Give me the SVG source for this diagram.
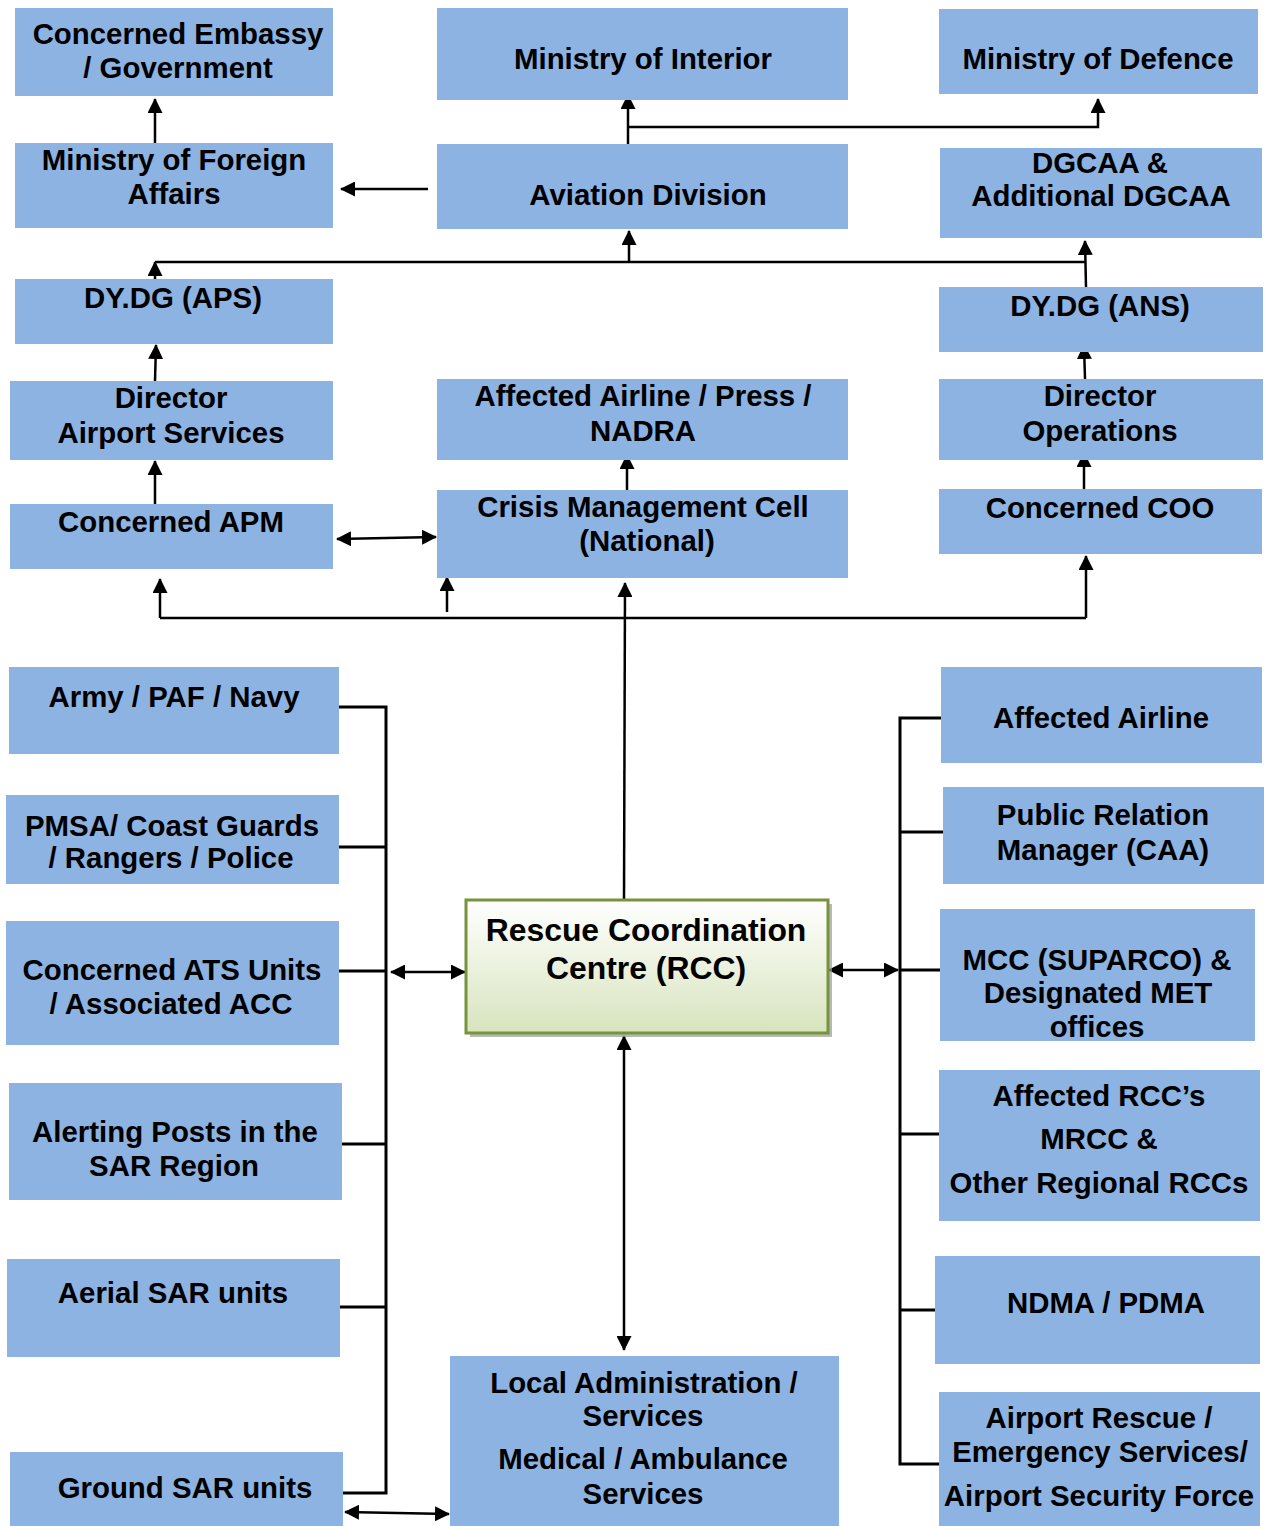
<svg xmlns="http://www.w3.org/2000/svg" width="1265" height="1526" viewBox="0 0 1265 1526">
<style>
.box{fill:#8DB3E2;}
.t{font-family:"Liberation Sans",Arial,sans-serif;font-weight:bold;font-size:29.4px;fill:#000;text-anchor:middle;}
.tr{font-family:"Liberation Sans",Arial,sans-serif;font-weight:bold;font-size:31.9px;fill:#000;text-anchor:middle;}
.c{fill:none;stroke:#000;stroke-width:2.5;}
.b{fill:none;stroke:#000;stroke-width:3;}
.a{marker-end:url(#ah);}
.d{marker-start:url(#ah);marker-end:url(#ah);}
</style>
<defs>
<marker id="ah" viewBox="0 0 15 15" refX="14" refY="7.5" markerWidth="15" markerHeight="15" markerUnits="userSpaceOnUse" orient="auto-start-reverse">
<path d="M0,0 L15,7.5 L0,15 Z" fill="#000"/>
</marker>
<linearGradient id="rccg" x1="0" y1="0" x2="0" y2="1">
<stop offset="0" stop-color="#FFFFFF"/>
<stop offset="1" stop-color="#D7E4BD"/>
</linearGradient>
</defs>
<rect width="1265" height="1526" fill="#FFFFFF"/>

<g id="connectors">
<path class="c a" d="M155,143 V99"/>
<path class="c a" d="M428,189 H341"/>
<path class="c a" d="M628,144 V95"/>
<path class="c a" d="M628,127 H1098 V99"/>
<path class="c a" d="M155,279 V262"/>
<path class="c" d="M155,262 H1086"/>
<path class="c a" d="M629,262 V231"/>
<path class="c a" d="M1086,287 L1085,241"/>
<path class="c a" d="M155,381 L156,345"/>
<path class="c a" d="M155,504 V461"/>
<path class="c d" d="M337,539 L436,537"/>
<path class="c a" d="M627,490 V455"/>
<path class="c a" d="M1085,379 L1084,345"/>
<path class="c a" d="M1084,489 V453"/>
<path class="c a" d="M624,900 L625,583"/>
<path class="c" d="M160,618 H1086"/>
<path class="c a" d="M160,618 V579"/>
<path class="c a" d="M447,612 V577"/>
<path class="c a" d="M1086,618 V556"/>
<path class="c d" d="M624,1036 V1350"/>
<path class="b" d="M339,707 H386 V1493 H343"/>
<path class="b" d="M339,847 H386 M339,971 H386 M342,1144 H386 M340,1307 H386"/>
<path class="c d" d="M391,972 H465"/>
<path class="b" d="M941,718 H900 V1464 H939"/>
<path class="b" d="M900,832 H943 M900,970 H940 M900,1134 H939 M900,1310 H935"/>
<path class="c d" d="M829,970 H898"/>
<path class="c d" d="M345,1512 L449,1514"/>
</g>

<g id="n-embassy"><rect class="box" x="15" y="8" width="318" height="88"/><text class="t" x="178" y="44">Concerned Embassy</text><text class="t" x="178" y="78">/ Government</text></g>
<g id="n-interior"><rect class="box" x="437" y="8" width="411" height="92"/><text class="t" x="643" y="69">Ministry of Interior</text></g>
<g id="n-defence"><rect class="box" x="939" y="9" width="319" height="85"/><text class="t" x="1098" y="69">Ministry of Defence</text></g>
<g id="n-mofa"><rect class="box" x="15" y="143" width="318" height="85"/><text class="t" x="174" y="170">Ministry of Foreign</text><text class="t" x="174" y="204">Affairs</text></g>
<g id="n-aviation"><rect class="box" x="437" y="144" width="411" height="85"/><text class="t" x="648" y="205">Aviation Division</text></g>
<g id="n-dgcaa"><rect class="box" x="940" y="148" width="322" height="90"/><text class="t" x="1100" y="173">DGCAA &amp;</text><text class="t" x="1101" y="206">Additional DGCAA</text></g>
<g id="n-dydg-aps"><rect class="box" x="15" y="279" width="318" height="65"/><text class="t" x="173" y="308">DY.DG (APS)</text></g>
<g id="n-dydg-ans"><rect class="box" x="939" y="287" width="324" height="65"/><text class="t" x="1100" y="316">DY.DG (ANS)</text></g>
<g id="n-dir-as"><rect class="box" x="10" y="381" width="323" height="79"/><text class="t" x="171" y="408">Director</text><text class="t" x="171" y="443">Airport Services</text></g>
<g id="n-press"><rect class="box" x="437" y="379" width="411" height="81"/><text class="t" x="643" y="406">Affected Airline / Press /</text><text class="t" x="643" y="441">NADRA</text></g>
<g id="n-dir-ops"><rect class="box" x="939" y="379" width="324" height="81"/><text class="t" x="1100" y="406">Director</text><text class="t" x="1100" y="441">Operations</text></g>
<g id="n-apm"><rect class="box" x="10" y="504" width="323" height="65"/><text class="t" x="171" y="532">Concerned APM</text></g>
<g id="n-cmc"><rect class="box" x="437" y="490" width="411" height="88"/><text class="t" x="643" y="517">Crisis Management Cell</text><text class="t" x="647" y="551">(National)</text></g>
<g id="n-coo"><rect class="box" x="939" y="489" width="323" height="65"/><text class="t" x="1100" y="518">Concerned COO</text></g>

<g id="n-army"><rect class="box" x="9" y="667" width="330" height="87"/><text class="t" x="174" y="707">Army / PAF / Navy</text></g>
<g id="n-pmsa"><rect class="box" x="6" y="795" width="333" height="89"/><text class="t" x="172" y="836">PMSA/ Coast Guards</text><text class="t" x="171" y="868">/ Rangers / Police</text></g>
<g id="n-ats"><rect class="box" x="6" y="921" width="333" height="124"/><text class="t" x="172" y="980">Concerned ATS Units</text><text class="t" x="171" y="1014">/ Associated ACC</text></g>
<g id="n-alert"><rect class="box" x="9" y="1083" width="333" height="117"/><text class="t" x="175" y="1142">Alerting Posts in the</text><text class="t" x="174" y="1176">SAR Region</text></g>
<g id="n-aerial"><rect class="box" x="7" y="1259" width="333" height="98"/><text class="t" x="173" y="1303">Aerial SAR units</text></g>
<g id="n-ground"><rect class="box" x="10" y="1452" width="333" height="74"/><text class="t" x="185" y="1498">Ground SAR units</text></g>

<g id="n-airline"><rect class="box" x="941" y="667" width="321" height="96"/><text class="t" x="1101" y="728">Affected Airline</text></g>
<g id="n-prm"><rect class="box" x="943" y="787" width="321" height="97"/><text class="t" x="1103" y="825">Public Relation</text><text class="t" x="1103" y="860">Manager (CAA)</text></g>
<g id="n-mcc"><rect class="box" x="940" y="909" width="315" height="132"/><text class="t" x="1097" y="970">MCC (SUPARCO) &amp;</text><text class="t" x="1098" y="1003">Designated MET</text><text class="t" x="1097" y="1037">offices</text></g>
<g id="n-rccs"><rect class="box" x="939" y="1070" width="321" height="151"/><text class="t" x="1099" y="1106">Affected RCC’s</text><text class="t" x="1099" y="1149">MRCC &amp;</text><text class="t" x="1099" y="1193">Other Regional RCCs</text></g>
<g id="n-ndma"><rect class="box" x="935" y="1256" width="325" height="108"/><text class="t" x="1106" y="1313">NDMA / PDMA</text></g>
<g id="n-arff"><rect class="box" x="939" y="1392" width="321" height="134"/><text class="t" x="1099" y="1428">Airport Rescue /</text><text class="t" x="1100" y="1462">Emergency Services/</text><text class="t" x="1099" y="1506">Airport Security Force</text></g>

<g id="n-local"><rect class="box" x="450" y="1356" width="389" height="170"/><text class="t" x="644" y="1393">Local Administration /</text><text class="t" x="643" y="1426">Services</text><text class="t" x="643" y="1469">Medical / Ambulance</text><text class="t" x="643" y="1504">Services</text></g>

<g id="n-rcc">
<rect x="470" y="904" width="362" height="133" fill="#9A9A9A" opacity="0.7"/>
<rect x="466" y="900" width="362" height="133" fill="url(#rccg)" stroke="#77933C" stroke-width="3"/>
<text class="tr" x="646" y="941">Rescue Coordination</text>
<text class="tr" x="646" y="979">Centre (RCC)</text>
</g>
</svg>
